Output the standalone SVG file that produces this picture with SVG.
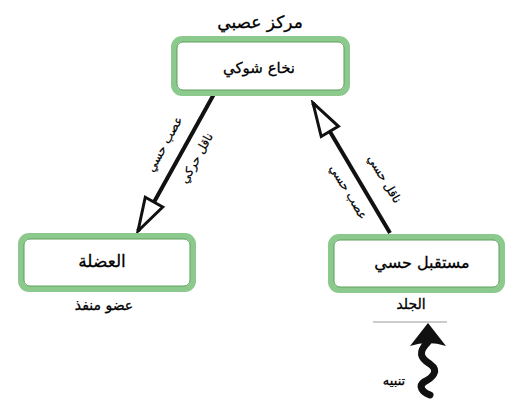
<svg xmlns="http://www.w3.org/2000/svg" width="513" height="401" viewBox="0 0 513 401">
<style>
.box{fill:#fff;stroke:#8cc98c;stroke-width:6}
.boxin{fill:none;stroke:#5f9f5f;stroke-width:1}
.t{font-family:"DejaVu Sans","Noto Sans",sans-serif;fill:#000;text-anchor:middle;stroke:#000;stroke-width:0.3}
.lab{font-size:15px}
.sm{font-size:14px}
.ar{font-size:12px;stroke-width:0.2}
.conn{stroke:#111;stroke-width:4;fill:none}
</style>
<defs>
<marker id="head" markerUnits="userSpaceOnUse" markerWidth="38" markerHeight="26" viewBox="0 0 38 26" refX="35" refY="13" orient="auto">
<path d="M2,3 L35,13 L2,23 Z" fill="#fff" stroke="#111" stroke-width="3"/>
</marker>
</defs>
<rect width="513" height="401" fill="#fff"/>
<g id="connectors">
<line class="conn" x1="214" y1="94" x2="138" y2="231" marker-end="url(#head)"/>
<line class="conn" x1="390" y1="233" x2="313" y2="103" marker-end="url(#head)"/>
<text class="t ar" transform="translate(168,146) rotate(-61)">عصب حسي</text>
<text class="t ar" transform="translate(200,160) rotate(-61)">ناقل حركي</text>
<text class="t ar" transform="translate(381,181) rotate(59)">ناقل حسي</text>
<text class="t ar" transform="translate(345,194) rotate(59)">عصب حسي</text>
</g>
<g id="spinal">
<text class="t" x="260" y="28" style="font-size:17px">مركز عصبي</text>
<rect class="box" x="174" y="39" width="173" height="54" rx="8"/>
<rect class="boxin" x="177" y="42" width="167" height="48" rx="6"/>
<text class="t lab" x="259" y="73">نخاع شوكي</text>
</g>
<g id="muscle">
<rect class="box" x="21" y="236" width="172" height="53" rx="8"/>
<rect class="boxin" x="24" y="239" width="166" height="47" rx="6"/>
<text class="t" x="102" y="267" style="font-size:17px">العضلة</text>
<text class="t sm" x="104" y="310">عضو منفذ</text>
</g>
<g id="receptor">
<rect class="box" x="331" y="237" width="171" height="53" rx="8"/>
<rect class="boxin" x="334" y="240" width="165" height="47" rx="6"/>
<text class="t" x="422" y="268" style="font-size:16px">مستقبل حسي</text>
<text class="t sm" x="411" y="309">الجلد</text>
<line x1="373" y1="322" x2="447" y2="322" stroke="#999" stroke-width="1"/>
</g>
<g id="stimulus">
<path d="M428,323 L410,346 Q428,340 446,346 Z" fill="#111"/>
<path d="M428,342 C418,352 420,358 430,364 C440,371 432,378 424,382 C418,386 422,392 430,395" fill="none" stroke="#111" stroke-width="7" stroke-linecap="round"/>
<text class="t" x="394" y="385" style="font-size:13px">تنبيه</text>
</g>
</svg>
